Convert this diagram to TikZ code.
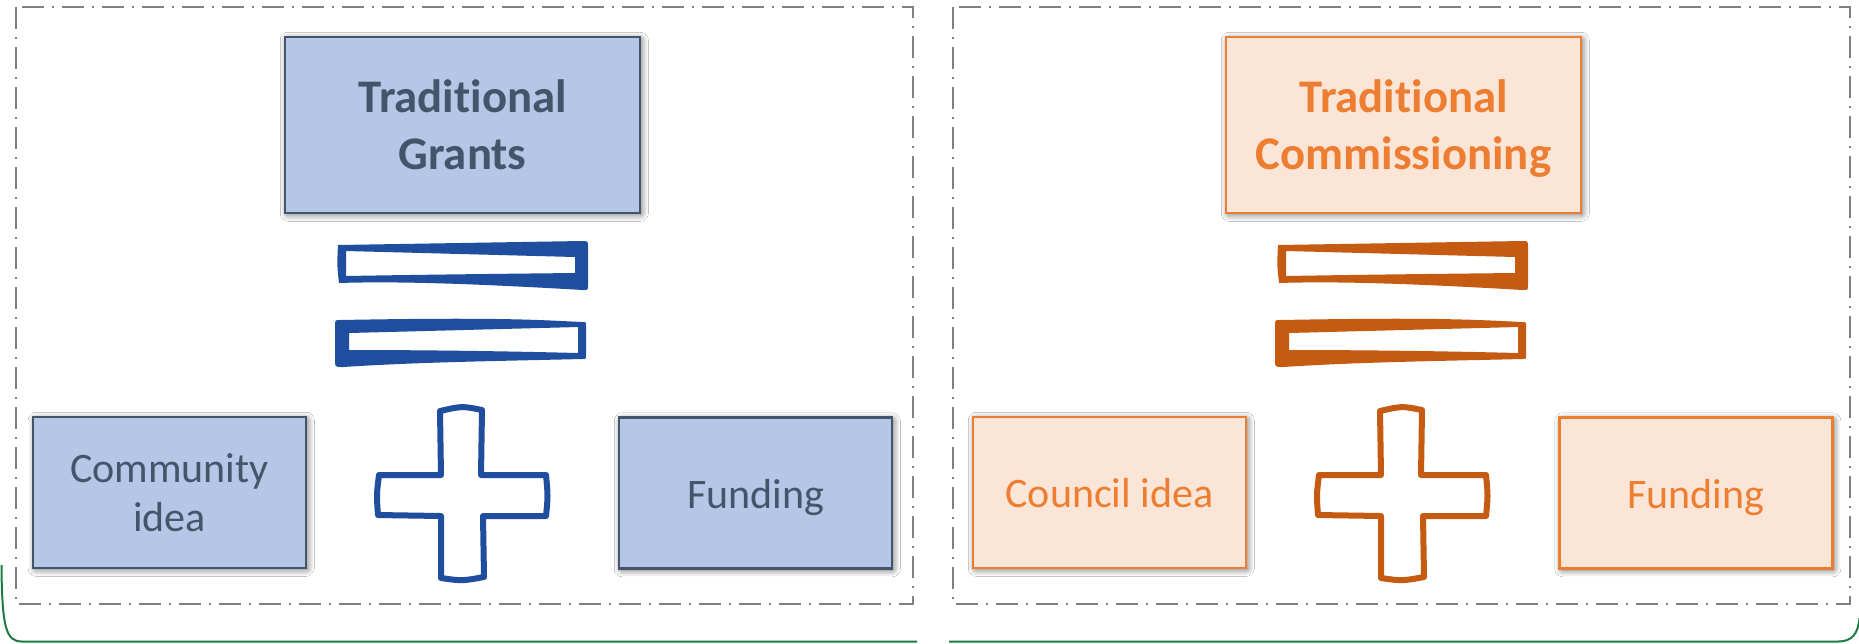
\documentclass[tikz,border=0pt]{standalone}
\usepackage{fontspec}
\setmainfont{Carlito}[Ligatures={NoCommon,NoRare}]
\usetikzlibrary{shadows.blur}
\definecolor{gfill}{HTML}{B4C7E7}
\definecolor{gline}{HTML}{44546A}
\definecolor{ofill}{HTML}{FBE5D6}
\definecolor{oline}{HTML}{ED7D31}
\definecolor{eqblue}{HTML}{1F4E9E}
\definecolor{eqorange}{HTML}{C55A11}
\definecolor{framegray}{HTML}{808080}
\definecolor{grn}{HTML}{1E7B45}
\begin{document}
\begin{tikzpicture}[x=0.4pt,y=-0.4pt,
 box/.style={draw, line width=1pt, inner sep=0pt, align=center,
   blur shadow={shadow xshift=0.7pt, shadow yshift=-0.7pt, shadow blur radius=2.6pt,
     shadow blur steps=12, shadow blur extra rounding=0.5pt, shadow opacity=55}},
 bluebox/.style={box, draw=gline, fill=gfill, text=gline},
 orangebox/.style={box, draw=oline, fill=ofill, text=oline},
 titlebox/.style={font=\fontsize{18.7pt}{22.8pt}\selectfont\bfseries, minimum width=142pt, minimum height=70.4pt},
 itembox/.style={font=\fontsize{16.8pt}{19.6pt}\selectfont, minimum width=109.2pt, minimum height=60.4pt},
 oneline/.style={text height=14pt, text depth=2pt},
 frameline/.style={draw=framegray, line width=1.1pt, dash pattern=on 8.8pt off 3.2pt on 0.8pt off 3.2pt},
 greenline/.style={draw=grn, line width=0.8pt},
 plusline/.style={line width=2.4pt, line join=round},
]
\fill[white] (0,0) rectangle (1859,643);
\useasboundingbox (0,0) rectangle (1859,643);

% green outer frames (cropped)
\draw[greenline] (1.5,565) .. controls (2,628) and (6,641.5) .. (22,641.5) -- (917,641.5);
\draw[greenline] (949,641.5) -- (1838,641.5) .. controls (1852,641.5) and (1858,634) .. (1859.5,618);

% dash-dot frames
\draw[frameline] (16,7) rectangle (913,604);
\draw[frameline] (953,7) rectangle (1850,604);

% boxes
\node[bluebox, titlebox] (grants) at (462.5,125) {Tradit\kern0pt ional\\Grants};
\node[orangebox, titlebox] (comm) at (1403.5,125) {Tradit\kern0pt ional\\\smash{Commissioning}};
\node[bluebox, itembox] (cidea) at (169.5,492.5) {Community\\idea};
\node[bluebox, itembox, oneline] (bfund) at (755.5,493) {Funding};
\node[orangebox, itembox, oneline] (council) at (1109.5,492.5) {Council idea};
\node[orangebox, itembox, oneline] (ofund) at (1696,493) {Funding};

% hand-drawn equals and plus signs
\foreach \dx/\col in {0/eqblue, 940/eqorange}{
\begin{scope}[xshift=\dx*0.4pt]
 \fill[\col, even odd rule]
   (338,245) -- (582,241) .. controls (588,241) .. (588,247) -- (588,285)
   .. controls (588,290) .. (583,290) .. controls (480,284) and (400,281) .. (339,283)
   .. controls (337,265) .. cycle
   (346,251) -- (575,257) -- (575,273) .. controls (480,274) and (400,275) .. (346,276) -- cycle;
 \fill[\col, even odd rule]
   (340,320) .. controls (500,317) and (540,320) .. (582,322) .. controls (586,322) .. (586,326)
   -- (586,355) .. controls (586,359) .. (582,359) .. controls (500,361) and (420,362) .. (343,367)
   .. controls (335,367) .. (335,360) -- (335,326) .. controls (335,320) .. cycle
   (349,333) -- (578,327) -- (578,353) .. controls (500,351) and (420,350) .. (349,350) -- cycle;
 \draw[\col, plusline]
   (441,475) -- (440,411) .. controls (462,406) .. (482,410) -- (481,475)
   -- (546,475) .. controls (548,496) .. (546,516) -- (483,516)
   -- (484,577) .. controls (462,581) .. (441,578) -- (441,516)
   -- (378,515) .. controls (376.5,495) .. (379,475) -- cycle;
\end{scope}
}
\end{tikzpicture}
\end{document}
